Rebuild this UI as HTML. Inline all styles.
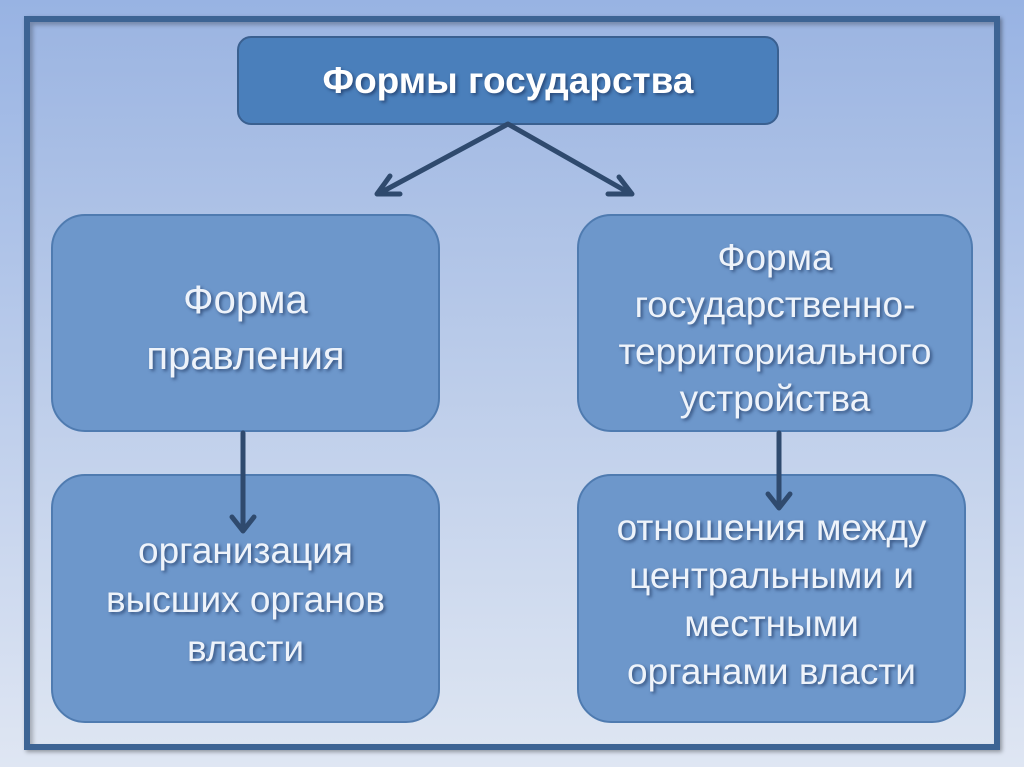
<!DOCTYPE html>
<html><head><meta charset="utf-8"><style>
html,body{margin:0;padding:0}
body{width:1024px;height:767px;position:relative;overflow:hidden;background:linear-gradient(#98b3e3,#dfe6f3);font-family:"Liberation Sans","DejaVu Sans",sans-serif}
.frame{position:absolute;left:24px;top:16px;width:964px;height:722px;border:6px solid #3d6494;background:linear-gradient(#9cb5e2,#dde5f2);box-shadow:2px 2px 4px rgba(0,0,0,.35), inset 3px 3px 4px rgba(0,0,0,.25)}
.box{position:absolute;box-sizing:border-box;border:2px solid #4f7bb0;border-radius:34px;background:#6d97cb;color:#eef3fa;display:flex;align-items:center;justify-content:center;text-align:center;text-shadow:2px 2px 3px rgba(20,40,80,.6);font-size:37px;line-height:48px;white-space:nowrap}
.top{left:237px;top:36px;width:542px;height:89px;border-radius:14px;background:#4a7fbb;border-color:#3a6090;font-weight:bold;font-size:37px;color:#fff}
svg{position:absolute;left:0;top:0}
</style></head><body>
<div class="frame"></div>
<div class="box top">Формы государства</div>
<div class="box" style="left:51px;top:214px;width:389px;height:218px;font-size:40px;line-height:56px;padding-top:10px">Форма<br>правления</div>
<div class="box" style="left:577px;top:214px;width:396px;height:218px;line-height:47px;padding-top:10px">Форма<br>государственно-<br>территориального<br>устройства</div>
<div class="box" style="left:51px;top:474px;width:389px;height:249px;line-height:49px;padding-top:2px">организация<br>высших органов<br>власти</div>
<div class="box" style="left:577px;top:474px;width:389px;height:249px;padding-top:2px">отношения между<br>центральными и<br>местными<br>органами власти</div>
<svg width="1024" height="767">
<g stroke="#2f4a6e" stroke-width="5" fill="none" stroke-linecap="round" stroke-linejoin="round">
<path d="M508 124 L378 194 M508 124 L631 194"/>
<path d="M390 176 L377 194 L400 194"/>
<path d="M619 177 L632 194 L608 194"/>
<path d="M243 433 V531 M232 517 L243 531 L254 517"/>
<path d="M779 433 V508 M768 494 L779 508 L790 494"/>
</g></svg>
</body></html>
